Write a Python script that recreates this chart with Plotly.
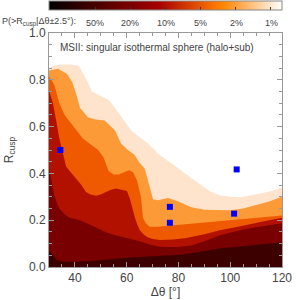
import plotly.graph_objects as go

# ---------------- data ----------------
# contour band upper boundaries (theta in degrees, R_cusp)
theta_peach = [30, 32, 34, 38, 41.5, 43, 45, 46.5, 50, 53, 55.5, 59.5, 62, 65.5, 69, 72, 76, 79, 82.5, 88, 92, 96, 100, 104, 108, 112, 116, 120]
r_peach = [0.85, 0.86, 0.865, 0.865, 0.86, 0.83, 0.79, 0.75, 0.73, 0.715, 0.68, 0.62, 0.58, 0.55, 0.52, 0.485, 0.455, 0.43, 0.40, 0.357, 0.325, 0.306, 0.30, 0.298, 0.305, 0.315, 0.325, 0.34]

theta_orange = [30, 33.5, 37, 39, 40.5, 42, 45, 48, 51.5, 55.5, 57.8, 60.5, 63, 65, 67, 68, 69, 70.2, 72, 76, 80, 85, 90, 95, 100, 105, 110, 115, 120]
r_orange = [0.84, 0.847, 0.825, 0.79, 0.74, 0.68, 0.64, 0.63, 0.626, 0.583, 0.528, 0.50, 0.48, 0.445, 0.42, 0.38, 0.33, 0.29, 0.285, 0.295, 0.28, 0.255, 0.245, 0.243, 0.243, 0.25, 0.265, 0.28, 0.30]

theta_orangered = [30, 31, 32, 33, 34, 36, 38, 40, 43, 46, 49, 51, 53, 55, 57, 59, 61, 62.5, 64, 65.5, 66.3, 67.5, 69, 72, 80, 90, 100, 110, 120]
r_orangered = [0.815, 0.80, 0.78, 0.74, 0.70, 0.65, 0.62, 0.59, 0.55, 0.525, 0.50, 0.47, 0.41, 0.395, 0.395, 0.405, 0.413, 0.405, 0.37, 0.30, 0.21, 0.185, 0.172, 0.172, 0.18, 0.19, 0.20, 0.21, 0.22]

theta_red = [30, 31.5, 32.7, 33.9, 35.4, 36.6, 38, 40.4, 42.5, 44.3, 46, 48.2, 50, 52, 54, 55.9, 58.6, 60.1, 61.3, 62.2, 63.2, 64.2, 65.1, 66.5, 67.9, 70, 72.9, 78, 82.5, 90, 96, 102, 108, 114, 120]
r_red = [0.755, 0.70, 0.63, 0.555, 0.485, 0.43, 0.41, 0.38, 0.35, 0.32, 0.31, 0.305, 0.31, 0.32, 0.33, 0.336, 0.33, 0.325, 0.29, 0.25, 0.21, 0.18, 0.157, 0.14, 0.128, 0.12, 0.115, 0.118, 0.123, 0.14, 0.157, 0.17, 0.185, 0.198, 0.21]

theta_darkred = [30, 31, 32, 33, 34, 36, 38, 40, 42, 45, 48, 50, 52, 55, 60, 65, 70, 73, 76, 80, 85, 90, 96, 100, 105, 110, 115, 120]
r_darkred = [0.42, 0.36, 0.31, 0.275, 0.25, 0.225, 0.21, 0.205, 0.20, 0.185, 0.168, 0.158, 0.148, 0.138, 0.125, 0.11, 0.093, 0.087, 0.085, 0.085, 0.092, 0.11, 0.136, 0.148, 0.16, 0.17, 0.18, 0.187]

theta_darkest = [30, 31, 32, 33, 35, 40, 45, 50, 55, 60, 70, 75, 82, 90, 96, 100, 110, 120]
r_darkest = [0.07, 0.055, 0.04, 0.03, 0.024, 0.022, 0.025, 0.028, 0.034, 0.04, 0.047, 0.05, 0.053, 0.068, 0.08, 0.083, 0.095, 0.106]

# observed lenses
obs_theta = [34.4, 76.7, 76.7, 101.5, 102.5]
obs_r = [0.50, 0.257, 0.189, 0.228, 0.417]

# colour bar labels
prob_labels = ['50%', '20%', '10%', '5%', '2%', '1%']
prob_pos = [0.2, 0.35, 0.5, 0.65, 0.8, 0.95]

# ---------------- figure ----------------
bands = [
    (theta_peach, r_peach, '#fee4cc'),
    (theta_orange, r_orange, '#fd9a38'),
    (theta_orangered, r_orangered, '#ef5a00'),
    (theta_red, r_red, '#b21100'),
    (theta_darkred, r_darkred, '#780000'),
    (theta_darkest, r_darkest, '#3d0000'),
]

fig = go.Figure()
for tx, ry, col in bands:
    fig.add_trace(go.Scatter(x=tx, y=ry, mode='lines', line=dict(width=0, color=col),
                             fill='tozeroy', fillcolor=col, hoverinfo='skip', showlegend=False))

fig.add_trace(go.Scatter(x=obs_theta, y=obs_r, mode='markers',
                         marker=dict(symbol='square', size=6, color='#0000ff', line=dict(width=0)),
                         showlegend=False))

ct3 = [[0, 'rgb(0,0,0)'], [0.47, 'rgb(166,0,0)'], [0.72, 'rgb(255,120,0)'],
       [0.745, 'rgb(255,132,0)'], [1, 'rgb(255,255,255)']]

fig.add_trace(go.Scatter(
    x=[None], y=[None], mode='markers', showlegend=False,
    marker=dict(color=[0], cmin=0, cmax=1, colorscale=ct3, showscale=True,
                colorbar=dict(orientation='h', x=0.5, xanchor='center', y=1.081, yanchor='bottom',
                              len=1.0, lenmode='fraction', thickness=9, thicknessmode='pixels',
                              xpad=0, ypad=0, outlinewidth=1, outlinecolor='#888888',
                              tickvals=prob_pos, ticks='inside', ticklen=3, tickcolor='#333333',
                              showticklabels=False))))

font_family = 'Liberation Sans, Arial, sans-serif'
txt_color = '#444444'
annotations = []
for lab, p in zip(prob_labels, prob_pos):
    annotations.append(dict(x=(48 + 235 * p - 49) / 233, y=1.043, xref='paper', yref='paper',
                            text=lab, showarrow=False, xanchor='center', yanchor='middle',
                            font=dict(size=9, color=txt_color, family=font_family)))
annotations.append(dict(x=-0.21, y=1.047, xref='paper', yref='paper',
                        text='P(>R<sub>cusp</sub>|Δθ±2.5°):', showarrow=False,
                        xanchor='left', yanchor='middle',
                        font=dict(size=9, color=txt_color, family=font_family)))
annotations.append(dict(x=0.039, y=0.936, xref='paper', yref='paper',
                        text='MSII: singular isothermal sphere (halo+sub)', showarrow=False,
                        xanchor='left', yanchor='middle',
                        font=dict(size=10, color=txt_color, family=font_family)))

axis_common = dict(showgrid=False, zeroline=False, showline=True, linecolor='#999999', linewidth=1,
                   mirror='allticks', ticks='inside', ticklen=5, tickcolor='#999999', automargin=False,
                   tickfont=dict(size=12, color=txt_color, family=font_family))

fig.update_layout(
    width=300, height=300,
    margin=dict(l=49, r=18, t=33, b=33, autoexpand=False),
    plot_bgcolor='white', paper_bgcolor='white',
    annotations=annotations,
    xaxis=dict(range=[30, 120], tick0=0, dtick=20,
               minor=dict(dtick=5, ticks='inside', ticklen=3, tickcolor='#999999'),
               title=dict(text='Δθ [°]', font=dict(size=12, color=txt_color, family=font_family), standoff=2),
               **axis_common),
    yaxis=dict(range=[0, 1.0], dtick=0.2, tickformat='.1f',
               minor=dict(dtick=0.05, ticks='inside', ticklen=3, tickcolor='#999999'),
               title=dict(text='R<sub>cusp</sub>', font=dict(size=12, color=txt_color, family=font_family), standoff=6),
               **axis_common),
)

fig.write_html('out.html', config={'displayModeBar': False},
               post_script="document.body.style.margin='0';document.body.style.overflow='hidden';")
